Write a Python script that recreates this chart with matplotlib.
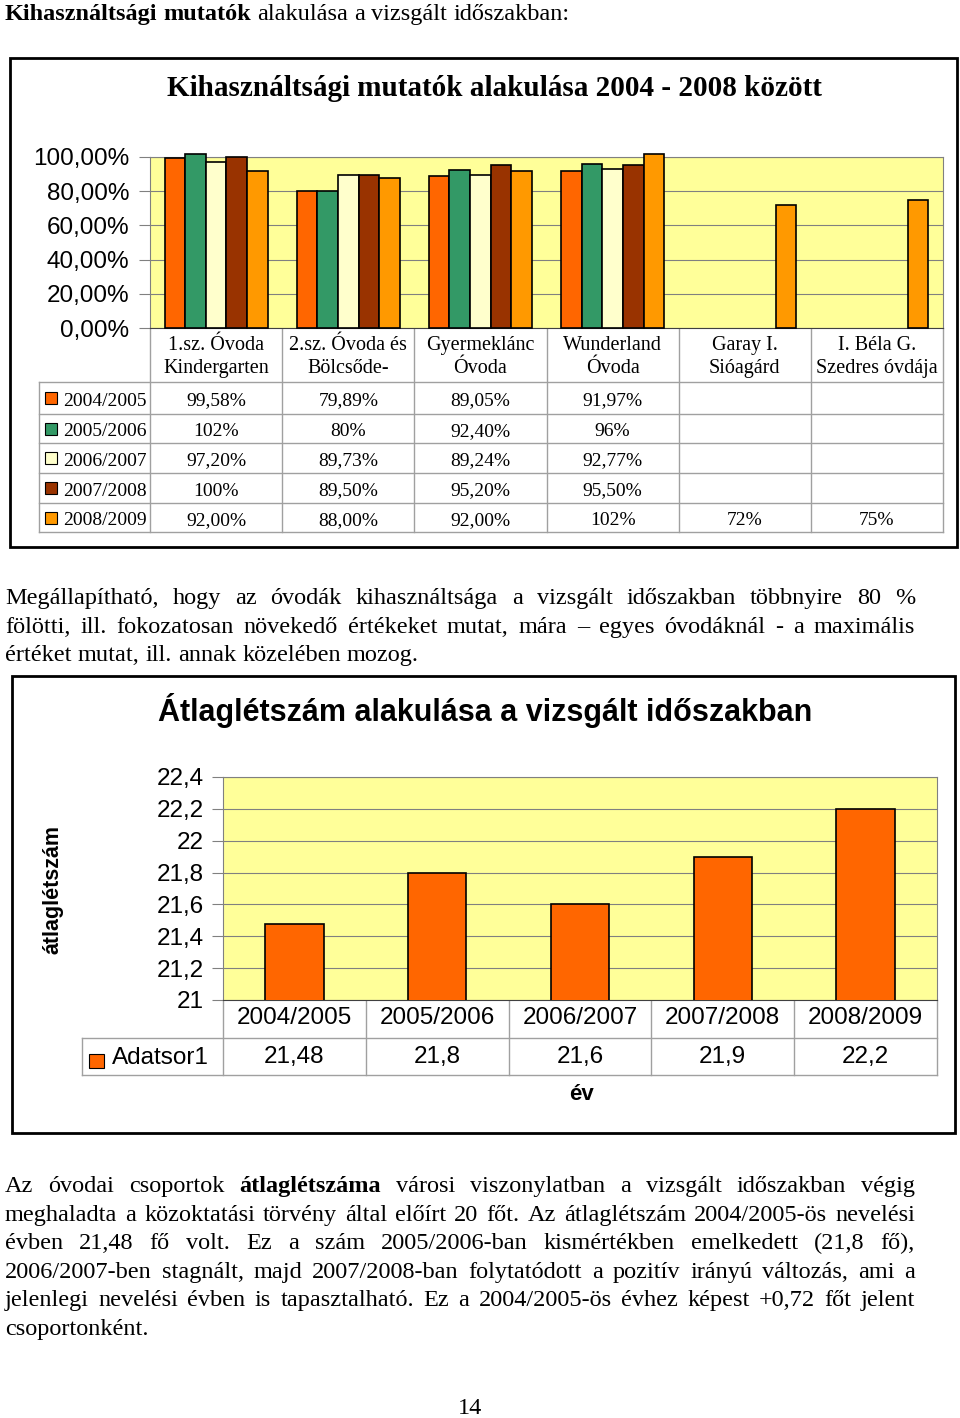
import numpy as np
import matplotlib
matplotlib.use("Agg")
import matplotlib.pyplot as plt
from matplotlib.patches import Rectangle
from matplotlib.transforms import blended_transform_factory

W, H = 960, 1418
SERIF = ["Liberation Serif", "DejaVu Serif"]
SANS = ["Liberation Sans", "DejaVu Sans"]

# --- kihasznaltsagi mutatok (1. diagram) ---
ovodak = ["1.sz. Óvoda\nKindergarten", "2.sz. Óvoda és\nBölcsőde-", "Gyermeklánc\nÓvoda",
          "Wunderland\nÓvoda", "Garay I.\nSióagárd", "I. Béla G.\nSzedres óvdája"]
evek = ["2004/2005", "2005/2006", "2006/2007", "2007/2008", "2008/2009"]
kih_2004 = [0.9958, 0.7989, 0.8905, 0.9197, np.nan, np.nan]
kih_2005 = [1.02, 0.80, 0.9240, 0.96, np.nan, np.nan]
kih_2006 = [0.9720, 0.8973, 0.8924, 0.9277, np.nan, np.nan]
kih_2007 = [1.00, 0.8950, 0.9520, 0.9550, np.nan, np.nan]
kih_2008 = [0.92, 0.88, 0.92, 1.02, 0.72, 0.75]
# a tablazatban szereplo feliratok (a formatum soronkent elter)
cimke_2004 = ["99,58%", "79,89%", "89,05%", "91,97%", "", ""]
cimke_2005 = ["102%", "80%", "92,40%", "96%", "", ""]
cimke_2006 = ["97,20%", "89,73%", "89,24%", "92,77%", "", ""]
cimke_2007 = ["100%", "89,50%", "95,20%", "95,50%", "", ""]
cimke_2008 = ["92,00%", "88,00%", "92,00%", "102%", "72%", "75%"]
szinek = ["#FF6600", "#339966", "#FFFFCC", "#993300", "#FF9900"]

# --- atlaglétszám (2. diagram) ---
tanevek = ["2004/2005", "2005/2006", "2006/2007", "2007/2008", "2008/2009"]
atlag = [21.48, 21.8, 21.6, 21.9, 22.2]

kih_ertekek = [kih_2004, kih_2005, kih_2006, kih_2007, kih_2008]
kih_cimkek = [cimke_2004, cimke_2005, cimke_2006, cimke_2007, cimke_2008]

fig = plt.figure(figsize=(W / 100, H / 100), dpi=100)
page = fig.add_axes([0, 0, 1, 1])
page.set_xlim(0, W)
page.set_ylim(H, 0)
page.axis("off")
rend = fig.canvas.get_renderer()


def doboz(x0, y0, x1, y1):
    return [x0 / W, 1 - y1 / H, (x1 - x0) / W, (y1 - y0) / H]


def sor(y, szavak, x0, x1, meret, sorkizart=True):
    # szavak: [(szo, felkover), ...]
    elemek = []
    for w, b in szavak:
        t = page.text(0, y, w, fontsize=meret, family=SERIF,
                      weight="bold" if b else "normal", va="baseline")
        elemek.append(t)
    szel = [t.get_window_extent(rend).width for t in elemek]
    if sorkizart and len(elemek) > 1:
        gap = (x1 - x0 - sum(szel)) / (len(elemek) - 1)
    else:
        gap = meret * 0.25 * 100 / 72
    x = x0
    for t, s in zip(elemek, szel):
        t.set_x(x)
        x += s + gap


def bekezdes(y0, sorok, meret, kiemelt=()):
    for i, s in enumerate(sorok):
        szavak = [(w, w.strip(",.") in kiemelt) for w in s.split()]
        sor(y0 + i * 28.6, szavak, 5, 915, meret, sorkizart=(i < len(sorok) - 1))


BETU = 17.5

# felso cim
sor(20, [("Kihasználtsági", True), ("mutatók", True), ("alakulása", False), ("a", False),
         ("vizsgált", False), ("időszakban:", False)], 5, 600, BETU, sorkizart=False)

# ---------------- 1. diagram ----------------
page.add_patch(Rectangle((10, 58), 947, 489, fill=False, ec="black", lw=2))
page.text(494, 88, "Kihasználtsági mutatók alakulása 2004 - 2008 között", family=SERIF,
          weight="bold", fontsize=21, ha="center", va="center")

ax1 = fig.add_axes(doboz(150, 157, 943, 328))
ax1.set_facecolor("#FFFF99")
x = np.arange(len(ovodak))
bw = 0.156
for i, (vals, szin) in enumerate(zip(kih_ertekek, szinek)):
    ax1.bar(x + (i - 2) * bw, vals, bw, color=szin, edgecolor="black", lw=1.2,
            clip_on=False, zorder=3)
ax1.set_xlim(-0.5, len(ovodak) - 0.5)
ax1.set_ylim(0, 1)
yt = np.arange(0, 1.01, 0.2)
ax1.set_yticks(yt)
ax1.set_yticklabels([f"{v * 100:.2f}%".replace(".", ",") for v in yt],
                    family=SANS, fontsize=17.5)
ax1.set_xticks([])
ax1.tick_params(axis="y", length=8, color="#808080", pad=7)
ax1.grid(axis="y", color="#808080", lw=0.8)
ax1.set_axisbelow(True)
for sp in ax1.spines.values():
    sp.set_color("#808080")
ax1.spines["bottom"].set_color("#404040")

tr1 = blended_transform_factory(ax1.transData, page.transData)
sorok1 = [382, 414, 443, 473, 503, 532]
for k in range(len(ovodak) + 1):
    page.plot([k - 0.5, k - 0.5], [328, 532], color="#A0A0A0", lw=1, transform=tr1, clip_on=False)
page.plot([39, 39], [382, 532], color="#A0A0A0", lw=1)
for yy in sorok1:
    page.plot([39, 943], [yy, yy], color="#A0A0A0", lw=1)
for k, nev in enumerate(ovodak):
    page.text(k, 357, nev, transform=tr1, family=SERIF, fontsize=14.5, ha="center",
              va="center", linespacing=1.3)
for i, (ev, cimkek, szin) in enumerate(zip(evek, kih_cimkek, szinek)):
    yc = (sorok1[i] + sorok1[i + 1]) / 2
    page.add_patch(Rectangle((45, yc - 6), 12, 12, fc=szin, ec="black", lw=0.8))
    page.text(63, yc + 3, ev, family=SERIF, fontsize=14, va="center")
    for k, c in enumerate(cimkek):
        if c:
            page.text(k, yc + 3, c, transform=tr1, family=SERIF, fontsize=14,
                      ha="center", va="center")

# szoveg a ket diagram kozott
bekezdes(604, ["Megállapítható, hogy az óvodák kihasználtsága a vizsgált időszakban többnyire 80 %",
               "fölötti, ill. fokozatosan növekedő értékeket mutat, mára – egyes óvodáknál - a maximális",
               "értéket mutat, ill. annak közelében mozog."], BETU)

# ---------------- 2. diagram ----------------
page.add_patch(Rectangle((12, 676), 943, 457, fill=False, ec="black", lw=2))
page.text(485, 711, "Átlaglétszám alakulása a vizsgált időszakban", family=SANS,
          weight="bold", fontsize=22, ha="center", va="center")

ax2 = fig.add_axes(doboz(223, 777, 937, 1000))
ax2.set_facecolor("#FFFF99")
x2 = np.arange(len(tanevek))
ax2.bar(x2, atlag, 0.41, color="#FF6600", edgecolor="black", lw=1.2, zorder=3)
ax2.set_xlim(-0.5, len(tanevek) - 0.5)
ax2.set_ylim(21, 22.4)
yt2 = np.round(np.arange(21, 22.41, 0.2), 1)
ax2.set_yticks(yt2)
ax2.set_yticklabels([f"{v:g}".replace(".", ",") for v in yt2], family=SANS, fontsize=17.5)
ax2.set_xticks([])
ax2.tick_params(axis="y", length=8, color="#808080", pad=6)
ax2.grid(axis="y", color="#808080", lw=0.8)
ax2.set_axisbelow(True)
for sp in ax2.spines.values():
    sp.set_color("#808080")
ax2.spines["bottom"].set_color("#404040")

tr2 = blended_transform_factory(ax2.transData, page.transData)
for k in range(len(tanevek) + 1):
    page.plot([k - 0.5, k - 0.5], [1000, 1075], color="#A0A0A0", lw=1, transform=tr2, clip_on=False)
page.plot([82, 82], [1038, 1075], color="#A0A0A0", lw=1)
for yy in [1038, 1075]:
    page.plot([82, 937], [yy, yy], color="#A0A0A0", lw=1)
for k, (ev, v) in enumerate(zip(tanevek, atlag)):
    page.text(k, 1018, ev, transform=tr2, family=SANS, fontsize=17.5, ha="center", va="center")
    page.text(k, 1057, f"{v:g}".replace(".", ","), transform=tr2, family=SANS, fontsize=17.5,
              ha="center", va="center")
page.add_patch(Rectangle((89, 1054), 15, 14, fc="#FF6600", ec="black", lw=0.8))
page.text(112, 1058, "Adatsor1", family=SANS, fontsize=17.5, va="center")
page.text(581, 1095, "év", family=SANS, weight="bold", fontsize=16, ha="center", va="center")
page.text(53, 890, "átlaglétszám", family=SANS, weight="bold", fontsize=15.5,
          rotation=90, ha="center", va="center")

# szoveg a masodik diagram alatt
bekezdes(1192, ["Az óvodai csoportok átlaglétszáma városi viszonylatban a vizsgált időszakban végig",
                "meghaladta a közoktatási törvény által előírt 20 főt. Az átlaglétszám 2004/2005-ös nevelési",
                "évben 21,48 fő volt. Ez a szám 2005/2006-ban kismértékben emelkedett (21,8 fő),",
                "2006/2007-ben stagnált, majd 2007/2008-ban folytatódott a pozitív irányú változás, ami a",
                "jelenlegi nevelési évben is tapasztalható. Ez a 2004/2005-ös évhez képest +0,72 főt jelent",
                "csoportonként."], BETU, kiemelt=("átlaglétszáma",))

page.text(470, 1408, "14", family=SERIF, fontsize=BETU, ha="center", va="center")

fig.savefig("out.png", dpi=100)
